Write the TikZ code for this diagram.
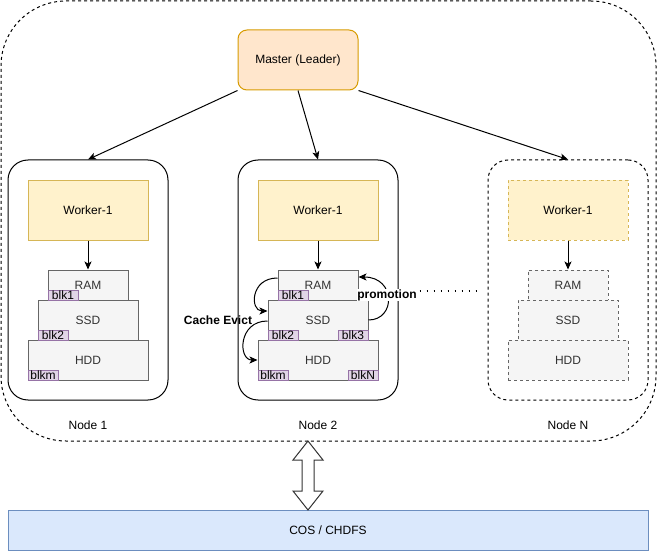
\documentclass[tikz,border=0pt]{standalone}
\usepackage{fontspec}
\setmainfont{Liberation Sans}
\usetikzlibrary{arrows.meta,calc}
\definecolor{masterfill}{HTML}{FFE6CC}
\definecolor{masterdraw}{HTML}{D79B00}
\definecolor{workfill}{HTML}{FFF2CC}
\definecolor{workdraw}{HTML}{D6B656}
\definecolor{tierfill}{HTML}{F5F5F5}
\definecolor{tierdraw}{HTML}{666666}
\definecolor{tiertext}{HTML}{333333}
\definecolor{blkfill}{HTML}{E1D5E7}
\definecolor{blkdraw}{HTML}{9673A6}
\definecolor{cosfill}{HTML}{DAE8FC}
\definecolor{cosdraw}{HTML}{6C8EBF}
\definecolor{arrowgray}{HTML}{333333}
\tikzset{
  every node/.style={font=\fontsize{12}{14}\selectfont, inner sep=0pt},
  dsh/.style={dash pattern=on 3pt off 3pt},
  masterbox/.style={draw=masterdraw, fill=masterfill, rounded corners=9pt, line width=1pt, minimum width=120pt, minimum height=60pt},
  nodebox/.style={draw=black, rounded corners=20pt, line width=1pt, minimum width=160pt, minimum height=240pt},
  workbox/.style={draw=workdraw, fill=workfill, line width=1pt, minimum width=120pt, minimum height=60pt},
  tier/.style={draw=tierdraw, fill=tierfill, text=tiertext, line width=1pt},
  rambox/.style={tier, minimum width=80pt, minimum height=30pt},
  ssdbox/.style={tier, minimum width=100pt, minimum height=40pt},
  hddbox/.style={tier, minimum width=120pt, minimum height=40pt},
  blkbox/.style={draw=blkdraw, fill=blkfill, line width=1pt, minimum width=30pt, minimum height=10pt, font=\fontsize{12}{12}\selectfont},
  conn/.style={line width=1pt, -{Stealth[length=8pt,width=7pt,inset=2pt]}},
  boldlbl/.style={font=\fontsize{12}{14}\selectfont\bfseries},
}
\begin{document}
\begin{tikzpicture}[x=1pt,y=-1pt]
\useasboundingbox (0,0) rectangle (657,551);
% outer container
\node[draw=black, dsh, line width=1pt, rounded corners=65pt, minimum width=655pt, minimum height=440pt] (outer) at (328.5,221) {};
% master
\node[masterbox] (master) at (298,60) {Master (Leader)};
% node containers
\node[nodebox] (n1) at (88,280) {};
\node[nodebox] (n2) at (318,280) {};
\node[nodebox, dsh] (nN) at (568,280) {};
% workers
\node[workbox] (w1) at (88,210) {Worker-1};
\node[workbox] (w2) at (318,210) {Worker-1};
\node[workbox, dsh] (wN) at (568,210) {Worker-1};
% node 1 tiers
\node[rambox] (ram1) at (88,285) {RAM};
\node[ssdbox] (ssd1) at (88,320) {SSD};
\node[hddbox] (hdd1) at (88,360) {HDD};
\node[blkbox] (b11) at (63,295) {blk1};
\node[blkbox] (b12) at (53,335) {blk2};
\node[blkbox] (b1m) at (43,375) {blkm};
% node 2 tiers
\node[rambox] (ram2) at (318,285) {RAM};
\node[ssdbox] (ssd2) at (318,320) {SSD};
\node[hddbox] (hdd2) at (318,360) {HDD};
\node[blkbox] (b21) at (293,295) {blk1};
\node[blkbox] (b22) at (283,335) {blk2};
\node[blkbox] (b23) at (353,335) {blk3};
\node[blkbox] (b2m) at (273,375) {blkm};
\node[blkbox] (b2N) at (363,375) {blkN};
% node N tiers
\node[rambox, dsh] (ramN) at (568,285) {RAM};
\node[ssdbox, dsh] (ssdN) at (568,320) {SSD};
\node[hddbox, dsh] (hddN) at (568,360) {HDD};
% labels
\node (l1) at (88,425) {Node 1};
\node (l2) at (318,425) {Node 2};
\node (lN) at (568,425) {Node N};
% COS
\node[draw=cosdraw, fill=cosfill, line width=1pt, minimum width=640pt, minimum height=40pt] (cos) at (328,530) {COS / CHDFS};
% master connectors
\draw[conn] (master.south west) -- (n1.north);
\draw[conn] (master.south) -- (n2.north);
\draw[conn] (master.south east) -- (nN.north);
% worker to ram
\draw[conn] (w1.south) -- (ram1.north);
\draw[conn] (w2.south) -- (ram2.north);
\draw[conn] (wN.south) -- (ramN.north);
% dotted line
\coordinate (dotend) at (478,291);
\draw[line width=1.5pt, dash pattern=on 1.5pt off 5.5pt] (n2.east |- dotend) -- (dotend);
% cache evict curves
\draw[conn] (ram2.west |- 0,278) .. controls (250,278) and (250,311) .. (ssd2.west |- 0,311);
\draw[conn] (ssd2.west |- 0,321) .. controls (238,321) and (238,360) .. (hdd2.west);
\node[boldlbl] (evict) at (218,320) {Cache Evict};
% promotion
\draw[conn] (ssd2.east) .. controls (396,320) and (396,277) .. (ram2.east |- 0,277);
\node[boldlbl, fill=white, inner sep=0.5pt] (promo) at (387,295) {promotion};
% double arrow
\coordinate (dt) at (308,441);
\coordinate (db) at (308,510);
\draw[draw=arrowgray, fill=white, line width=1pt, line join=miter]
  (dt) -- ($(dt)+(15,19)$) -- ($(dt)+(6,19)$) -- ($(db)+(6,-19)$) -- ($(db)+(15,-19)$) -- (db)
  -- ($(db)+(-15,-19)$) -- ($(db)+(-6,-19)$) -- ($(dt)+(-6,19)$) -- ($(dt)+(-15,19)$) -- cycle;
\end{tikzpicture}
\end{document}
